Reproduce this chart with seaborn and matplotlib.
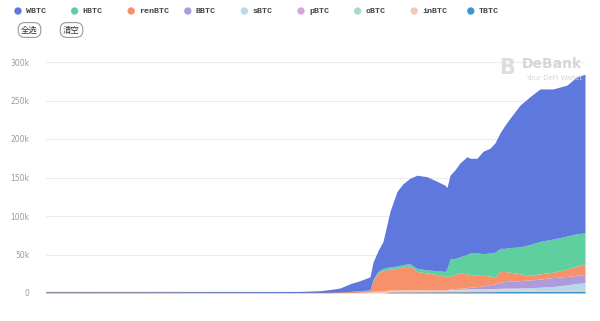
import matplotlib
matplotlib.use("Agg")
import matplotlib.pyplot as plt
import seaborn as sns
import numpy as np

# ---- data (values in thousands of BTC) ----
day = [0, 54, 104, 154, 204, 254, 274, 284, 294, 304, 314, 324, 327, 332, 337, 344,
       351, 357, 364, 371, 381, 391, 399, 401, 404, 409, 414, 421, 424, 431, 437, 444,
       449, 454, 459, 464, 474, 484, 494, 507, 521, 531, 539]

TBTC = [0, 0, 0, 0, 0, 0, 0, 0, 0, 0, 0, 0, 0, 0, 0, 1.0,
        1.1, 1.2, 1.2, 1.3, 1.3, 1.4, 1.4, 1.4, 1.5, 1.5, 1.5, 1.6, 1.6, 1.6, 1.7, 1.7,
        1.8, 2.0, 2.0, 2.0, 2.1, 2.2, 2.3, 2.3, 2.4, 2.5, 2.5]
inBTC = [0, 0, 0, 0, 0, 0, 0, 0, 0.5, 1.0, 1.5, 2.0, 2.5, 2.5, 2.5, 3.0,
         3.0, 3.0, 3.0, 3.0, 2.8, 2.7, 2.6, 2.6, 2.5, 2.4, 2.3, 2.3, 2.2, 2.2, 2.1, 2.1,
         2.0, 2.0, 2.0, 1.9, 1.9, 1.8, 1.8, 1.7, 1.6, 1.5, 1.5]
oBTC = [0, 0, 0, 0, 0, 0, 0, 0, 0, 0, 0, 0, 0, 0, 0, 0,
        0, 0, 0, 0, 0, 0, 0, 0, 0.5, 0.5, 0.5, 0.5, 0.5, 0.5, 0.5, 0.5,
        0.5, 0.5, 0.5, 0.5, 0.5, 0.5, 0.5, 0.5, 0.5, 0.5, 0.5]
pBTC = [0, 0, 0, 0, 0, 0, 0, 0, 0, 0, 0, 0, 0, 0, 0, 0,
        0, 0, 0, 0, 0, 0, 0, 0, 0, 0, 0, 0, 0.5, 0.5, 0.5, 0.5,
        0.5, 0.5, 0.5, 0.5, 0.5, 0.5, 1.0, 1.0, 1.0, 1.0, 1.0]
sBTC = [0, 0, 0, 0, 0, 0, 0, 0, 0, 0, 0, 0, 0, 0, 0, 0,
        0, 0, 0, 0, 0, 0, 0, 0, 0.5, 0.5, 0.6, 0.7, 0.8, 0.8, 0.9, 1.0,
        1.0, 1.2, 1.3, 1.4, 1.6, 1.8, 2.0, 3.0, 5.0, 7.0, 8.0]
BBTC = [0, 0, 0, 0, 0, 0, 0, 0, 0, 0, 0, 0, 0, 0, 0, 0,
        0, 0, 0, 0, 0, 0, 0, 0, 0.5, 1.0, 1.2, 1.5, 2.0, 2.5, 3.5, 5.0,
        6.0, 8.0, 8.5, 9.0, 9.5, 10.0, 10.5, 11.5, 11.0, 10.5, 10.0]
renBTC = [0.3, 0.3, 0.4, 0.5, 0.6, 0.8, 1.0, 1.2, 1.0, 1.0, 1.5, 2.0, 14.5, 23.5, 26.5, 27.0,
          27.9, 29.8, 30.8, 23.7, 21.9, 19.9, 18.0, 17.0, 16.5, 18.1, 19.9, 18.4, 16.4, 14.9, 13.8, 11.2,
          9.2, 13.8, 13.2, 11.7, 8.9, 6.2, 6.9, 7.0, 9.5, 12.0, 14.5]
HBTC = [0, 0, 0, 0, 0, 0, 0, 0, 0, 0, 0, 0, 0.5, 2, 3, 3,
        3, 3, 3, 4, 4, 5, 6, 11, 22, 21, 21, 25, 28, 29, 28, 30,
        32, 30, 30, 32, 35, 40, 42, 43, 43, 42, 40]
WBTC = [0.5, 0.6, 0.6, 0.7, 0.9, 1.2, 2.0, 3.3, 5.0, 10, 13, 17, 22.5, 27, 35, 72,
        97, 105, 111, 121, 121, 116, 112, 105, 109, 115, 122, 127, 123, 123, 133, 136,
        142, 150, 160, 168, 184, 192, 198, 195, 196, 204, 206]

legend_names = ["WBTC", "HBTC", "renBTC", "BBTC", "sBTC", "pBTC", "oBTC", "inBTC", "TBTC"]
colors = {"WBTC": "#5f78dd", "HBTC": "#5ecf9e", "renBTC": "#f6916c", "BBTC": "#ad9bdc",
          "sBTC": "#b7d9ef", "pBTC": "#d9a3de", "oBTC": "#a8dcc2", "inBTC": "#f4c6b6",
          "TBTC": "#3b96d6"}
yticks = [0, 50, 100, 150, 200, 250, 300]
ytick_labels = ["0", "50k", "100k", "150k", "200k", "250k", "300k"]

# ---- plot ----
sns.set_theme(style="white")
W, H = 600, 321
fig = plt.figure(figsize=(6, 3.21), dpi=100)
ax = fig.add_axes([46 / W, (H - 293) / H, (585 - 46) / W, (293 - 62) / H])

stack_order = ["TBTC", "inBTC", "oBTC", "pBTC", "sBTC", "BBTC", "renBTC", "HBTC", "WBTC"]
series = {"TBTC": TBTC, "inBTC": inBTC, "oBTC": oBTC, "pBTC": pBTC, "sBTC": sBTC,
          "BBTC": BBTC, "renBTC": renBTC, "HBTC": HBTC, "WBTC": WBTC}
ax.stackplot(day, *[series[k] for k in stack_order],
             colors=[colors[k] for k in stack_order], linewidth=0)

ax.set_xlim(day[0], day[-1])
ax.set_ylim(0, 300)
ax.set_yticks(yticks)
ax.set_yticklabels(ytick_labels, fontsize=5.5, color="#9a9a9a")
ax.tick_params(axis="y", length=0, pad=12)
ax.set_xticks([])
ax.grid(axis="y", color="#ececec", linewidth=0.8)
ax.set_axisbelow(True)
for s in ax.spines.values():
    s.set_visible(False)
ax.axhline(0, color="#8c8c8c", linewidth=1.6, zorder=0.5)

# ---- overlay (legend, buttons, watermark) in pixel coords ----
ov = fig.add_axes([0, 0, 1, 1], facecolor="none")
ov.set_xlim(0, W)
ov.set_ylim(H, 0)
ov.axis("off")

x0, dx = 18, 56.6
for i, name in enumerate(legend_names):
    x = x0 + i * dx
    ov.scatter([x], [11], s=28, color=colors[name], edgecolor="none")
    ov.text(x + 8, 11.5, name, fontsize=6, family="Liberation Mono", weight="bold",
            color="#444444", va="center", ha="left")

for label, cx in [("全选", 29.5), ("清空", 71.5)]:
    ov.text(cx, 30, label, fontsize=6, family=["Noto Sans CJK SC", "DejaVu Sans"],
            color="#333333", ha="center", va="center",
            bbox=dict(boxstyle="round,pad=0.35,rounding_size=0.8", fc="white",
                      ec="#9a9a9a", lw=0.8))

ov.text(507, 68, "B", fontsize=15, weight="bold", color="#dddddd", ha="center", va="center")
ov.text(522, 64, "DeBank", fontsize=10, weight="bold", color="#d6d6d6", ha="left", va="center")
ov.text(526, 77.5, "Your DeFi Wallet", fontsize=5, color="#d6d6d6", ha="left", va="center")

fig.savefig("out.png", dpi=100)
